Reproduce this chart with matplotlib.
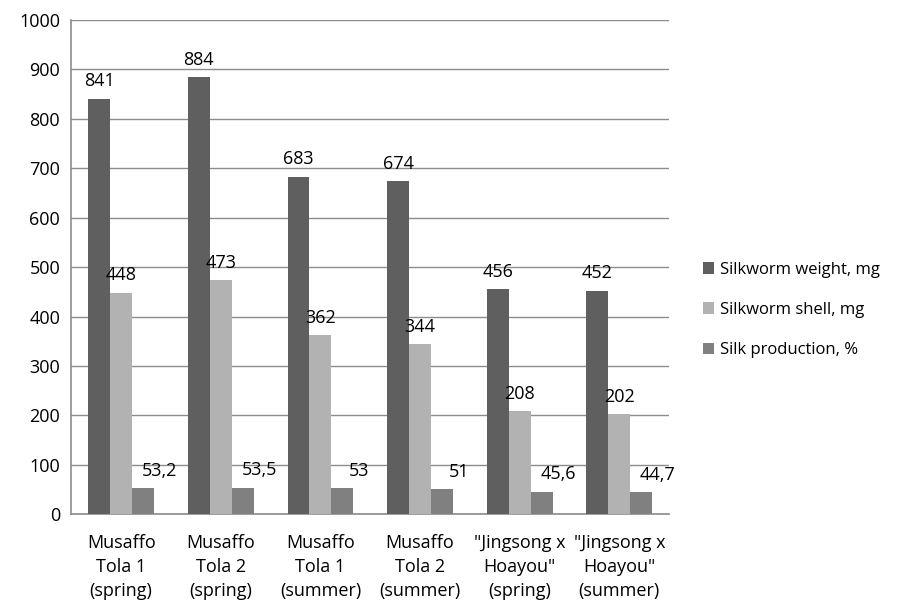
import numpy as np
import matplotlib.pyplot as plt

plt.rcParams['font.family'] = ['Open Sans', 'DejaVu Sans']

# data
kategoriler = ['Musaffo\nTola 1\n(spring)', 'Musaffo\nTola 2\n(spring)',
               'Musaffo\nTola 1\n(summer)', 'Musaffo\nTola 2\n(summer)',
               '"Jingsong x\nHoayou"\n(spring)', '"Jingsong x\nHoayou"\n(summer)']
agirlik = [841, 884, 683, 674, 456, 452]
kabuk = [448, 473, 362, 344, 208, 202]
ipek = [53.2, 53.5, 53, 51, 45.6, 44.7]
ipek_etiket = ['53,2', '53,5', '53', '51', '45,6', '44,7']
seriler = ['Silkworm weight, mg', 'Silkworm shell, mg', 'Silk production, %']
renkler = ['#5f5f5f', '#b2b2b2', '#808080']

fig = plt.figure(figsize=(9.03, 6.05), dpi=100)
ax = fig.add_axes([0.079, 0.150, 0.662, 0.817])

x = np.arange(len(kategoriler))
w = 0.22
degerler = [agirlik, kabuk, ipek]
for i, (vals, ad, renk) in enumerate(zip(degerler, seriler, renkler)):
    ax.bar(x + (i - 1) * w, vals, w, color=renk, label=ad, zorder=3)

ets = 13
for k in range(len(x)):
    ax.annotate(str(agirlik[k]), (x[k] - w, agirlik[k]), xytext=(0, 6),
                textcoords='offset points', ha='center', va='bottom', fontsize=ets)
    ax.annotate(str(kabuk[k]), (x[k], kabuk[k]), xytext=(0, 6),
                textcoords='offset points', ha='center', va='bottom', fontsize=ets)
    ax.annotate(ipek_etiket[k], (x[k] + w, ipek[k]), xytext=(12, 6),
                textcoords='offset points', ha='center', va='bottom', fontsize=ets)

ax.set_ylim(0, 1000)
ax.set_yticks(range(0, 1001, 100))
ax.set_xlim(-0.5, len(x) - 0.5)
ax.set_xticks(x)
ax.set_xticklabels(kategoriler, fontsize=13, linespacing=1.45)
ax.tick_params(axis='y', labelsize=13, length=0, pad=8)
ax.tick_params(axis='x', length=0, pad=14)
ax.grid(axis='y', color='#8c8c8c', linewidth=1, zorder=0)
for s in ['top', 'right']:
    ax.spines[s].set_visible(False)
for s in ['left', 'bottom']:
    ax.spines[s].set_color('#8c8c8c')
    ax.spines[s].set_linewidth(1.2)

ax.legend(loc='center left', bbox_to_anchor=(1.045, 0.413), frameon=False,
          fontsize=12, handlelength=0.7, handleheight=0.7, handletextpad=0.35,
          labelspacing=1.45, borderaxespad=0)

fig.savefig('out.png', dpi=100)
